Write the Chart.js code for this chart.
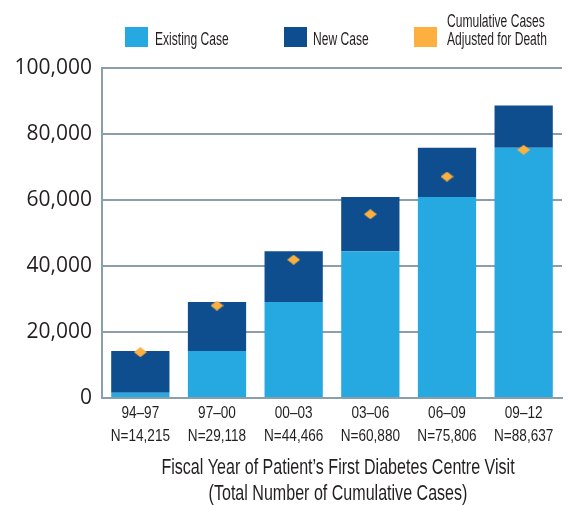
<!DOCTYPE html>
<html><head><meta charset="utf-8">
<script src="https://cdn.jsdelivr.net/npm/chart.js@4"></script>
<style>html,body{margin:0;padding:0;background:#fff}#wrap{width:569px;height:505px;position:relative}</style>
</head><body><div id="wrap"><canvas id="c" width="569" height="505"></canvas></div>
<script>
const periods = ['94–97', '97–00', '00–03', '03–06', '06–09', '09–12'];
const totalLabels = ['N=14,215', 'N=29,118', 'N=44,466', 'N=60,880', 'N=75,806', 'N=88,637'];
const existingCase = [1600, 14215, 29118, 44466, 60880, 75806];
const newCase = [12615, 14903, 15348, 16414, 14926, 12831];
const adjustedForDeath = [13900, 28000, 41900, 55700, 67100, 75200];
const seriesNames = ['Existing Case', 'New Case', ['Cumulative Cases', 'Adjusted for Death']];
const xTitle = ['Fiscal Year of Patient’s First Diabetes Centre Visit', '(Total Number of Cumulative Cases)'];

const C_LIGHT = '#25a9e0', C_DARK = '#0f4e8e', C_ORANGE = '#fbb040', C_AXIS = '#8a9eab', C_TEXT = '#231f20';
const SANS = '"Liberation Sans", Arial, sans-serif';

// diamond marker
const dia = document.createElement('canvas');
dia.width = 13; dia.height = 10;
(function(){const g = dia.getContext('2d'); g.fillStyle = C_ORANGE; g.beginPath(); g.moveTo(6.5,0); g.lineTo(13,5); g.lineTo(6.5,10); g.lineTo(0,5); g.closePath(); g.fill();})();

// condensed text helper (horizontal squeeze of a regular face)
function condText(ctx, text, x, y, size, sx, align) {
  ctx.save();
  ctx.font = size + 'px ' + SANS;
  ctx.textBaseline = 'middle';
  ctx.textAlign = align || 'left';
  ctx.translate(x, y);
  ctx.scale(sx, 1);
  ctx.fillText(text, 0, 0);
  ctx.restore();
}

const textPlugin = {
  id: 'condensedText',
  afterDraw(chart) {
    const ctx = chart.ctx;
    const xs = chart.scales.x;
    const bottom = chart.chartArea.bottom;
    ctx.save();
    // legend
    const items = [
      {x: 125, color: C_LIGHT, tx: 155, text: seriesNames[0]},
      {x: 284, color: C_DARK, tx: 313, text: seriesNames[1]},
      {x: 414, color: C_ORANGE, tx: 447, text: seriesNames[2]}
    ];
    items.forEach(it => {
      ctx.fillStyle = it.color;
      ctx.fillRect(it.x, 27, 23, 20);
      ctx.fillStyle = C_TEXT;
      if (Array.isArray(it.text)) {
        condText(ctx, it.text[0], it.tx, 22, 18, 0.67);
        condText(ctx, it.text[1], it.tx, 40, 18, 0.67);
      } else {
        condText(ctx, it.text, it.tx, 40, 18, 0.67);
      }
    });
    // x tick labels
    ctx.fillStyle = C_TEXT;
    periods.forEach((p, i) => {
      const px = xs.getPixelForTick(i);
      condText(ctx, p, px, bottom + 15, 17, 0.8, 'center');
      condText(ctx, totalLabels[i], px, bottom + 38, 17, 0.8, 'center');
    });
    // x title
    const cx = (chart.chartArea.left + chart.chartArea.right) / 2 + 6;
    condText(ctx, xTitle[0], cx, bottom + 70, 22, 0.73, 'center');
    condText(ctx, xTitle[1], cx, bottom + 96, 22, 0.73, 'center');
    ctx.restore();
  }
};

new Chart(document.getElementById('c'), {
  type: 'bar',
  data: {
    labels: periods.map((p, i) => [p, totalLabels[i]]),
    datasets: [
      {type: 'line', label: 'Cumulative Cases Adjusted for Death', data: adjustedForDeath, showLine: false,
       pointStyle: dia, pointRadius: 6, pointHoverRadius: 6, order: 0, stack: 'adj'},
      {label: 'Existing Case', data: existingCase, backgroundColor: C_LIGHT, order: 1, stack: 's'},
      {label: 'New Case', data: newCase, backgroundColor: C_DARK, order: 1, stack: 's'}
    ]
  },
  options: {
    responsive: false,
    animation: false,
    devicePixelRatio: 1,
    layout: {padding: {top: 68, right: 2, left: 0, bottom: 0}},
    datasets: {bar: {categoryPercentage: 1, barPercentage: 0.76}},
    plugins: {legend: {display: false}, tooltip: {enabled: false}},
    scales: {
      x: {
        stacked: true,
        grid: {display: false},
        border: {display: true, color: C_AXIS, width: 2},
        ticks: {display: false},
        afterFit(s) { s.height = 107; }
      },
      y: {
        stacked: true,
        min: 0, max: 100000,
        grid: {color: C_AXIS, lineWidth: 2, drawTicks: false},
        border: {display: true, color: C_AXIS, width: 2},
        ticks: {stepSize: 20000, color: C_TEXT, padding: 10, font: {family: '"Open Sans", sans-serif', size: 21},
          callback: v => v.toLocaleString('en-US')},
        afterFit(s) { s.width = 102; }
      }
    }
  },
  plugins: [textPlugin]
});
</script></body></html>
